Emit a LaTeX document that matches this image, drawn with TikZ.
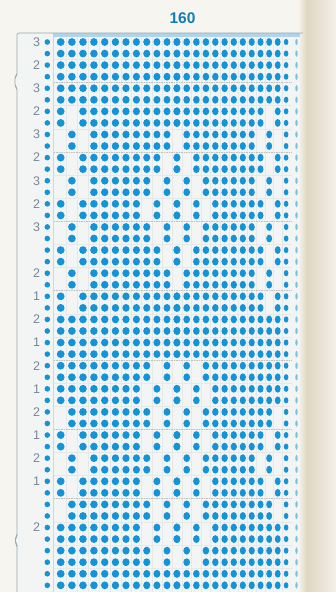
\documentclass[tikz,border=0pt]{standalone}
\usepackage{fontspec}
\setmainfont{Liberation Sans}
\usetikzlibrary{calc}
\definecolor{holeblue}{RGB}{20,148,214}
\definecolor{paper}{RGB}{246,245,240}
\definecolor{cardface}{RGB}{243,245,244}
\definecolor{cardline}{RGB}{150,168,182}
\definecolor{rowgray}{RGB}{118,134,150}
\definecolor{bandblue}{RGB}{176,212,233}
\definecolor{foldtan}{RGB}{224,214,194}
% one punched hole: column, row
\newcommand{\punch}[2]{%
  \pgfmathsetmacro\holex{60.7+11.2*(#1-1)-0.063636*(#1-1)*(#1-2)}%
  \pgfmathsetmacro\holer{3.9*(1-0.011364*(#1-1))}%
  \pgfmathsetmacro\holey{42+11.56*(#2-1)}%
  \fill[holeblue] (\holex,\holey) ellipse [x radius=\holer pt, y radius=3.9pt];}

\begin{document}
\begin{tikzpicture}[x=1pt, y=-1pt, every node/.style={inner sep=0pt},
    rowlabel/.style={font=\fontsize{12.5}{13}\selectfont, text=rowgray},
    gridline/.style={black!9, line width=0.3pt},
    foldline/.style={black!24, line width=0.4pt, dash pattern=on 1.5pt off 1pt}]
  \useasboundingbox (0,0) rectangle (336,592);
  \fill[paper] (0,0) rectangle (336,592);
  \fill[cardface] (17,33) rectangle (300,592);
  % page curling into the binding
  \shade[left color=paper, right color=foldtan] (298,0) rectangle (307,592);
  \shade[left color=foldtan, right color=paper!85!foldtan] (307,0) rectangle (336,592);

  \node[font=\bfseries\fontsize{15.5}{16}\selectfont, text=holeblue!85!black] (title) at (182.5,18) {160};

  % card outline and top band
  \fill[bandblue] (53,33) rectangle (300,36.5);
  \draw[cardline, line width=0.7pt, rounded corners=2pt]
    (17,592) -- (17,545) -- (15.5,543) -- (15.5,538) -- (17,536) -- (17,88)
    -- (15,86) -- (15,77) -- (17,75) -- (17,33) -- (303,33);

  % grid
  \draw[black!16, line width=0.4pt] (53.5,36.5) -- (53.5,592);
  \foreach \c in {1,...,23}
    \draw[gridline] ({66.3+11.2*(\c-1)-0.063636*(\c-1)*(\c-1)},36.5) -- ++(0,556);
  \foreach \k in {1,...,23}
    \draw[gridline] (53.5,{42+11.56*(2*\k-0.5)}) -- (292,{42+11.56*(2*\k-0.5)});
  \foreach \k in {2,5,...,20}
    \draw[foldline] (53.5,{42+11.56*(2*\k-0.5)}) -- (292,{42+11.56*(2*\k-0.5)});

  % row counts
  \foreach \r/\n in {1/3,3/2,5/3,7/2,9/3,11/2,13/3,15/2,17/3,21/2,23/1,25/2,27/1,
                     29/2,31/1,33/2,35/1,37/2,39/1,43/2}
    \node[rowlabel] (lab\r) at (36.5,{42+11.56*(\r-1)}) {\n};

  % edge holes
  \foreach \r in {1,...,48} {
    \fill[holeblue] (47.3,{42+11.56*(\r-1)}) circle [radius=2.8pt];
    \fill[holeblue] (286.1,{42+11.56*(\r-1)}) ellipse [x radius=2.3pt, y radius=3.1pt];
    \fill[holeblue!55!paper] (296.5,{42+11.56*(\r-1)}) ellipse [x radius=1.2pt, y radius=3.2pt];
  }

  % pattern, columns 1-12 of each pair of rows, mirrored onto 13-23
  \foreach \pat [count=\p] in {
      {1,1,1,1,1,1,1,1,1,1,1,1},{1,1,1,1,1,1,1,1,1,1,1,1},{1,1,1,1,1,1,1,1,1,1,1,1},
      {1,0,1,1,1,1,1,1,1,1,1,1},{0,1,0,1,1,1,1,1,1,1,1,0},{1,0,1,1,1,1,1,1,1,1,0,1},
      {0,1,0,1,1,1,1,1,1,0,1,0},{1,0,1,1,1,1,1,1,0,1,0,1},{0,1,0,1,1,1,1,1,1,0,1,0},
      {1,0,1,1,1,1,1,1,1,1,0,1},{0,1,0,1,1,1,1,1,1,1,1,0},{1,0,1,1,1,1,1,1,1,1,1,1},
      {1,1,1,1,1,1,1,1,1,1,1,1},{1,1,1,1,1,1,1,1,1,1,1,1},{1,1,1,1,1,1,1,1,1,0,1,0},
      {1,1,1,1,1,1,1,1,0,1,0,1},{0,1,1,1,1,1,1,1,1,0,1,0},{1,0,1,1,1,1,1,1,0,1,0,1},
      {0,1,0,1,1,1,1,1,1,0,1,0},{1,0,1,1,1,1,1,1,0,1,0,1},{0,1,1,1,1,1,1,1,1,0,1,0},
      {1,1,1,1,1,1,1,1,0,1,0,1},{1,1,1,1,1,1,1,1,1,0,1,0},{1,1,1,1,1,1,1,1,1,1,1,1}} {
    \pgfmathtruncatemacro\ra{2*\p-1}
    \pgfmathtruncatemacro\rb{2*\p}
    \foreach \v [count=\k] in \pat {
      \ifnum\v=1
        \pgfmathtruncatemacro\mk{24-\k}
        \punch{\k}{\ra} \punch{\k}{\rb}
        \punch{\mk}{\ra} \punch{\mk}{\rb}
      \fi
    }
  }
\end{tikzpicture}
\end{document}
